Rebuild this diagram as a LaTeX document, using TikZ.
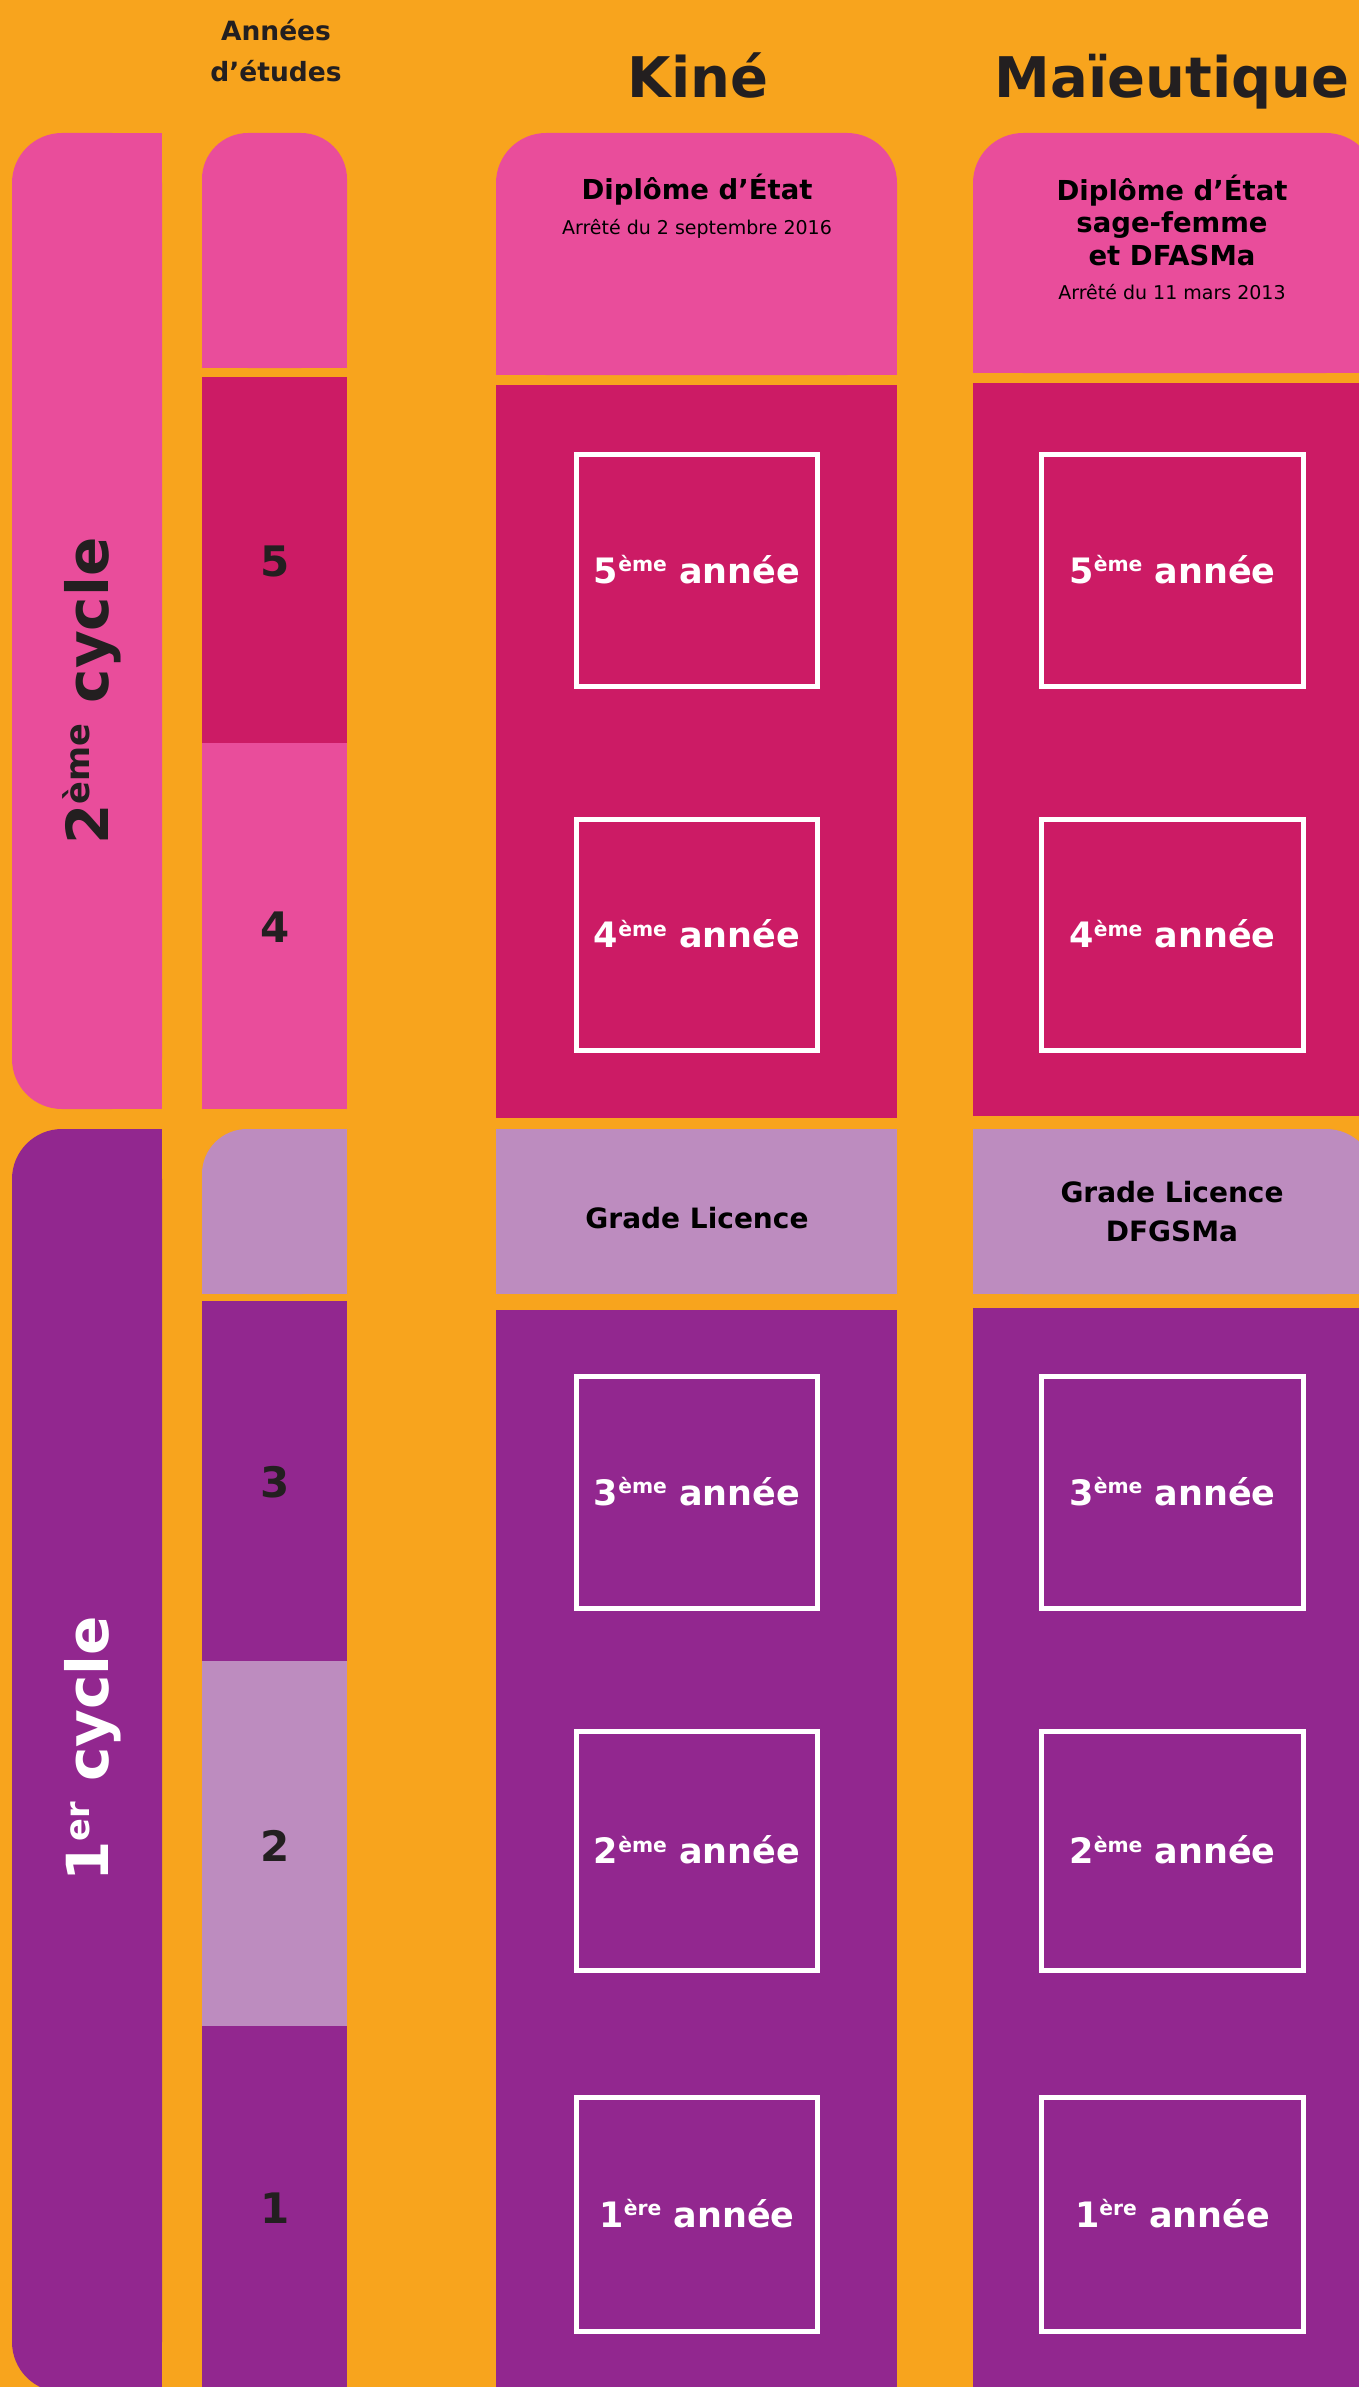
\documentclass[tikz,border=0pt]{standalone}
\usepackage{fontspec}
\setmainfont{DejaVu Sans}
\definecolor{fond}{HTML}{F8A41D}
\definecolor{rose}{HTML}{E94D9B}
\definecolor{framboise}{HTML}{CC1B65}
\definecolor{prune}{HTML}{92278F}
\definecolor{lilas}{HTML}{BD8CBF}
\definecolor{encre}{HTML}{231F20}
\newcommand\expo[1]{\raisebox{.32em}{\scalebox{.58}{#1}}}

\begin{document}
\begin{tikzpicture}[x=1pt,y=-1pt,
  entete/.style={font=\bfseries\fontsize{26.5}{30}\selectfont, text=encre, anchor=base},
  titre/.style={font=\bfseries\fontsize{56}{60}\selectfont, text=encre, anchor=base},
  diplome/.style={font=\bfseries\fontsize{27.5}{32.5}\selectfont, align=center},
  arrete/.style={font=\fontsize{19}{22}\selectfont, anchor=base},
  grade/.style={font=\bfseries\fontsize{28}{39}\selectfont, align=center},
  cycle/.style={font=\bfseries\fontsize{58}{60}\selectfont, rotate=90, anchor=base},
  chiffre/.style={font=\bfseries\fontsize{42}{44}\selectfont, text=encre},
  annee/.style={font=\bfseries\fontsize{35}{40}\selectfont, text=white, anchor=base},
  cadre/.style={draw=white, line width=5pt}
]
  \useasboundingbox (0,0) rectangle (1359,2387);
  \clip (0,0) rectangle (1359,2387);
  \fill[fond] (0,0) rectangle (1359,2387);

  % cycles
  \fill[rose, rounded corners=50] (12,133) rectangle (162,1109);
  \fill[rose] (100,133) rectangle (162,1109);
  \fill[prune, rounded corners=50] (12,1129) rectangle (162,2392);
  \fill[prune] (100,1129) rectangle (162,2392);
  \node[cycle, text=encre] (cycle2) at (108,691) {2\expo{ème} cycle};
  \node[cycle, text=white] (cycle1) at (108,1749) {1\expo{er} cycle};

  % annees d'etudes
  \node[entete] (annees) at (276,41) {Années};
  \node[entete] (etudes) at (276,82) {d’études};
  \fill[rose, rounded corners=46] (202,133) rectangle (347,368);
  \fill[rose] (202,250) rectangle (347,368);
  \fill[framboise] (202,377) rectangle (347,743);
  \fill[rose] (202,743) rectangle (347,1109);
  \fill[lilas, rounded corners=45] (202,1129) rectangle (347,1294);
  \fill[lilas] (260,1129) rectangle (347,1294);
  \fill[lilas] (202,1200) rectangle (347,1294);
  \fill[prune] (202,1301) rectangle (347,1661);
  \fill[lilas] (202,1661) rectangle (347,2026);
  \fill[prune] (202,2026) rectangle (347,2387);
  \foreach \n/\c in {5/560,4/926,3/1481,2/1844,1/2207}
    \node[chiffre] (an\n) at (275,\c+1.5) {\n};

  % Kine
  \node[titre] (kine) at (698,98) {Kiné};
  \fill[rose, rounded corners=50] (496,133) rectangle (897,375);
  \fill[rose] (496,250) rectangle (897,375);
  \fill[framboise] (496,385) rectangle (897,1118);
  \fill[lilas] (496,1129) rectangle (897,1294);
  \fill[prune] (496,1310) rectangle (897,2387);
  \node[diplome, anchor=base] (dekine) at (697,199.5) {Diplôme d’État};
  \node[arrete] (arrkine) at (697,234) {Arrêté du 2 septembre 2016};
  \node[grade, anchor=base] (glkine) at (697,1228) {Grade Licence};

  % Maieutique
  \node[titre] (maieutique) at (1172,98) {Maïeutique};
  \fill[rose, rounded corners=50] (973,133) rectangle (1376,373);
  \fill[rose] (973,250) rectangle (1376,373);
  \fill[framboise] (973,383) rectangle (1376,1116);
  \fill[lilas, rounded corners=50] (973,1129) rectangle (1376,1294);
  \fill[lilas] (973,1129) rectangle (1300,1294);
  \fill[lilas] (973,1200) rectangle (1376,1294);
  \fill[prune] (973,1308) rectangle (1376,2387);
  \node[diplome] (demaieu) at (1172,220) {Diplôme d’État\\sage-femme\\et DFASMa};
  \node[arrete] (arrmaieu) at (1172,299) {Arrêté du 11 mars 2013};
  \node[grade] (glmaieu) at (1172,1212) {Grade Licence\\DFGSMa};

  % annees
  \foreach \n/\haut/\bas/\suf in {5/452/689/ème,4/817/1053/ème,3/1374/1611/ème,2/1729/1973/ème,1/2095/2334/ère} {
    \draw[cadre] (576.5,\haut+2.5) rectangle (817.5,\bas-2.5);
    \draw[cadre] (1041.5,\haut+2.5) rectangle (1303.5,\bas-2.5);
    \node[annee] (kine\n) at (697,{(\haut+\bas)/2+12.5}) {\n\expo{\suf} année};
    \node[annee] (maieu\n) at (1172.5,{(\haut+\bas)/2+12.5}) {\n\expo{\suf} année};
  }
\end{tikzpicture}
\end{document}
